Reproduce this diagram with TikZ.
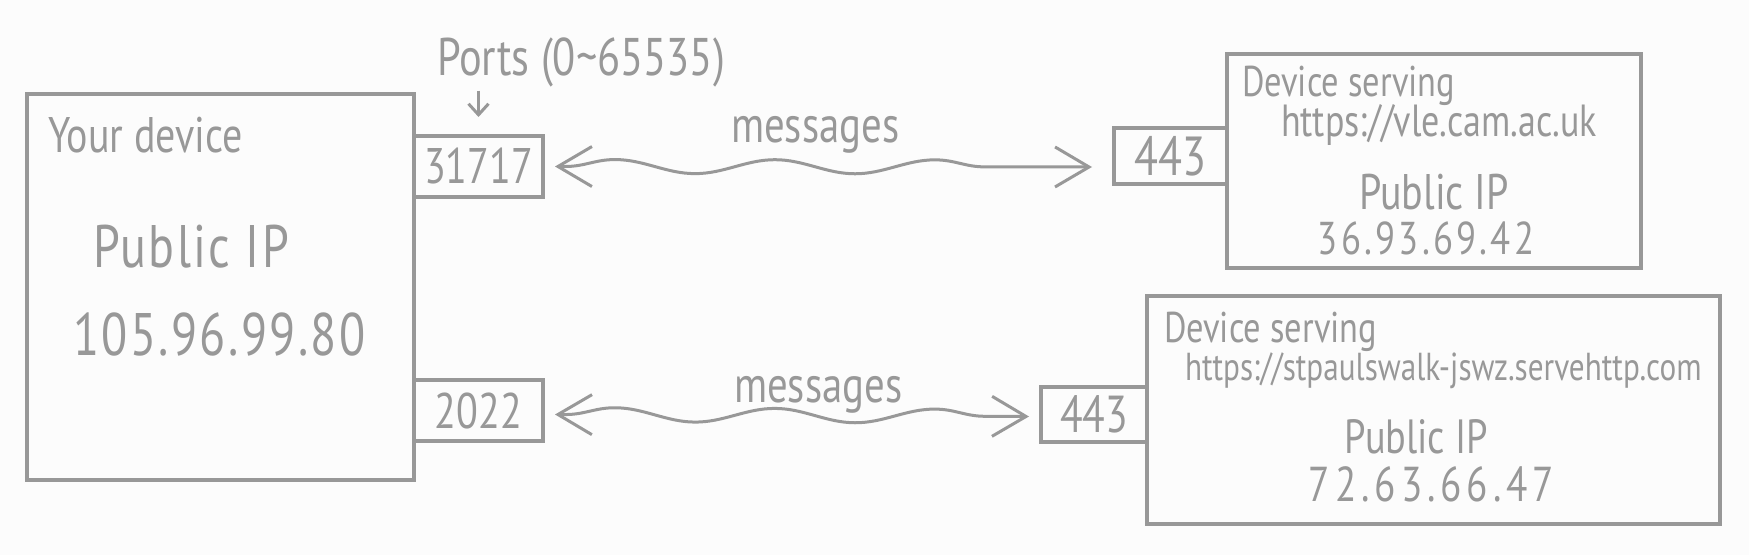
\documentclass[tikz,border=0pt]{standalone}
\usepackage{fontspec}
\setmainfont{PT Sans}[FakeStretch=0.8]
\usetikzlibrary{arrows.meta, positioning, decorations.pathmorphing}
\definecolor{ink}{RGB}{152,152,152}
\definecolor{paper}{RGB}{252,252,252}
\newcommand\handsize[1]{\fontsize{#1}{#1}\selectfont}

\begin{document}
\begin{tikzpicture}[
  x=1pt, y=1pt,
  box/.style={rectangle, draw=ink, text=ink, line width=3.5pt, outer sep=0pt, inner sep=0pt},
  lbl/.style={text=ink, inner sep=0pt, outer sep=0pt},
  msg/.style={draw=ink, line width=3pt,
    {Straight Barb[length=34pt,width=40pt]}-{Straight Barb[length=34pt,width=40pt]},
    decorate, decoration={snake, segment length=160pt, amplitude=7pt, pre length=10pt, post length=30pt}},
  ptr/.style={draw=ink, line width=3pt, -{Straight Barb[length=11pt,width=20pt]}}
]
\fill[paper] (0,0) rectangle (1749,555);
\useasboundingbox (0,0) rectangle (1749,555);

% your device
\node[box, anchor=north west, minimum width=387pt, minimum height=386pt] (you) at (27,461) {};
\node[box, anchor=north west, minimum width=129pt, minimum height=61pt, font=\handsize{50}] (p31717) at ([yshift=-42pt]you.north east) {31717};
\node[box, anchor=north west, minimum width=129pt, minimum height=61pt, font=\handsize{50}] (p2022) at ([yshift=-286pt]you.north east) {2022};
\node[lbl, anchor=base west, font=\handsize{50}] (youname) at ([xshift=21pt,yshift=-59pt]you.north west) {Your device};
\node[lbl, anchor=base west, font={\handsize{60}\addfontfeatures{LetterSpace=4}}] (youiplbl) at ([xshift=66pt,yshift=-174pt]you.north west) {Public IP};
\node[lbl, anchor=base west, font={\handsize{60}\addfontfeatures{LetterSpace=4}}] (youip) at ([xshift=46pt,yshift=-261pt]you.north west) {105.96.99.80};

\node[lbl, anchor=base west, font=\handsize{53}] (portslbl) at ([xshift=23pt,yshift=60pt]p31717.north west) {Ports (0\textasciitilde65535)};
\coordinate (portsfoot) at (p31717.north |- portslbl.south);
\draw[ptr] ([yshift=-3pt]portsfoot) -- ([yshift=19pt]p31717.north);

% server 1
\node[box, anchor=north west, minimum width=414pt, minimum height=214pt] (srv1) at (1227,501) {};
\node[box, anchor=north east, minimum width=113pt, minimum height=56pt, font=\handsize{55}] (s1port) at ([yshift=-74pt]srv1.north west) {443};
\node[lbl, anchor=base west, font=\handsize{43}] (srv1name) at ([xshift=15pt,yshift=-43pt]srv1.north west) {Device serving};
\node[lbl, anchor=base west, font=\handsize{45}] (srv1url) at ([xshift=54pt,yshift=-83pt]srv1.north west) {https://vle.cam.ac.uk};
\node[lbl, anchor=base, font=\handsize{50}] (srv1iplbl) at ([yshift=-156pt]srv1.north) {Public IP};
\node[lbl, anchor=base, font={\handsize{46}\addfontfeatures{LetterSpace=7}}] (srv1ip) at ([xshift=-8pt,yshift=-201pt]srv1.north) {36.93.69.42};

% server 2
\node[box, anchor=north west, minimum width=573pt, minimum height=228pt] (srv2) at (1147,259) {};
\node[box, anchor=north east, minimum width=106pt, minimum height=55pt, font=\handsize{52}] (s2port) at ([yshift=-91pt]srv2.north west) {443};
\node[lbl, anchor=base west, font=\handsize{43}] (srv2name) at ([xshift=17pt,yshift=-47pt]srv2.north west) {Device serving};
\node[lbl, anchor=base west, font=\handsize{39}] (srv2url) at ([xshift=38pt,yshift=-84pt]srv2.north west) {https://stpaulswalk-jswz.servehttp.com};
\node[lbl, anchor=base, font=\handsize{48}] (srv2iplbl) at ([xshift=-17pt,yshift=-157pt]srv2.north) {Public IP};
\node[lbl, anchor=base, font={\handsize{49}\addfontfeatures{LetterSpace=10}}] (srv2ip) at ([xshift=-2pt,yshift=-205pt]srv2.north) {72.63.66.47};

% messages
\node[lbl, anchor=base west, font=\handsize{51}] (msgtop) at (731,412) {messages};
\node[lbl, anchor=base west, font=\handsize{51}] (msgbot) at (734,153) {messages};
\draw[msg] ([xshift=12pt]p31717.east) -- ([xshift=-22pt,yshift=-11pt]s1port.west);
\draw[msg] ([xshift=12pt,yshift=-4pt]p2022.east) -- ([xshift=-12pt,yshift=-2pt]s2port.west);
\end{tikzpicture}
\end{document}
